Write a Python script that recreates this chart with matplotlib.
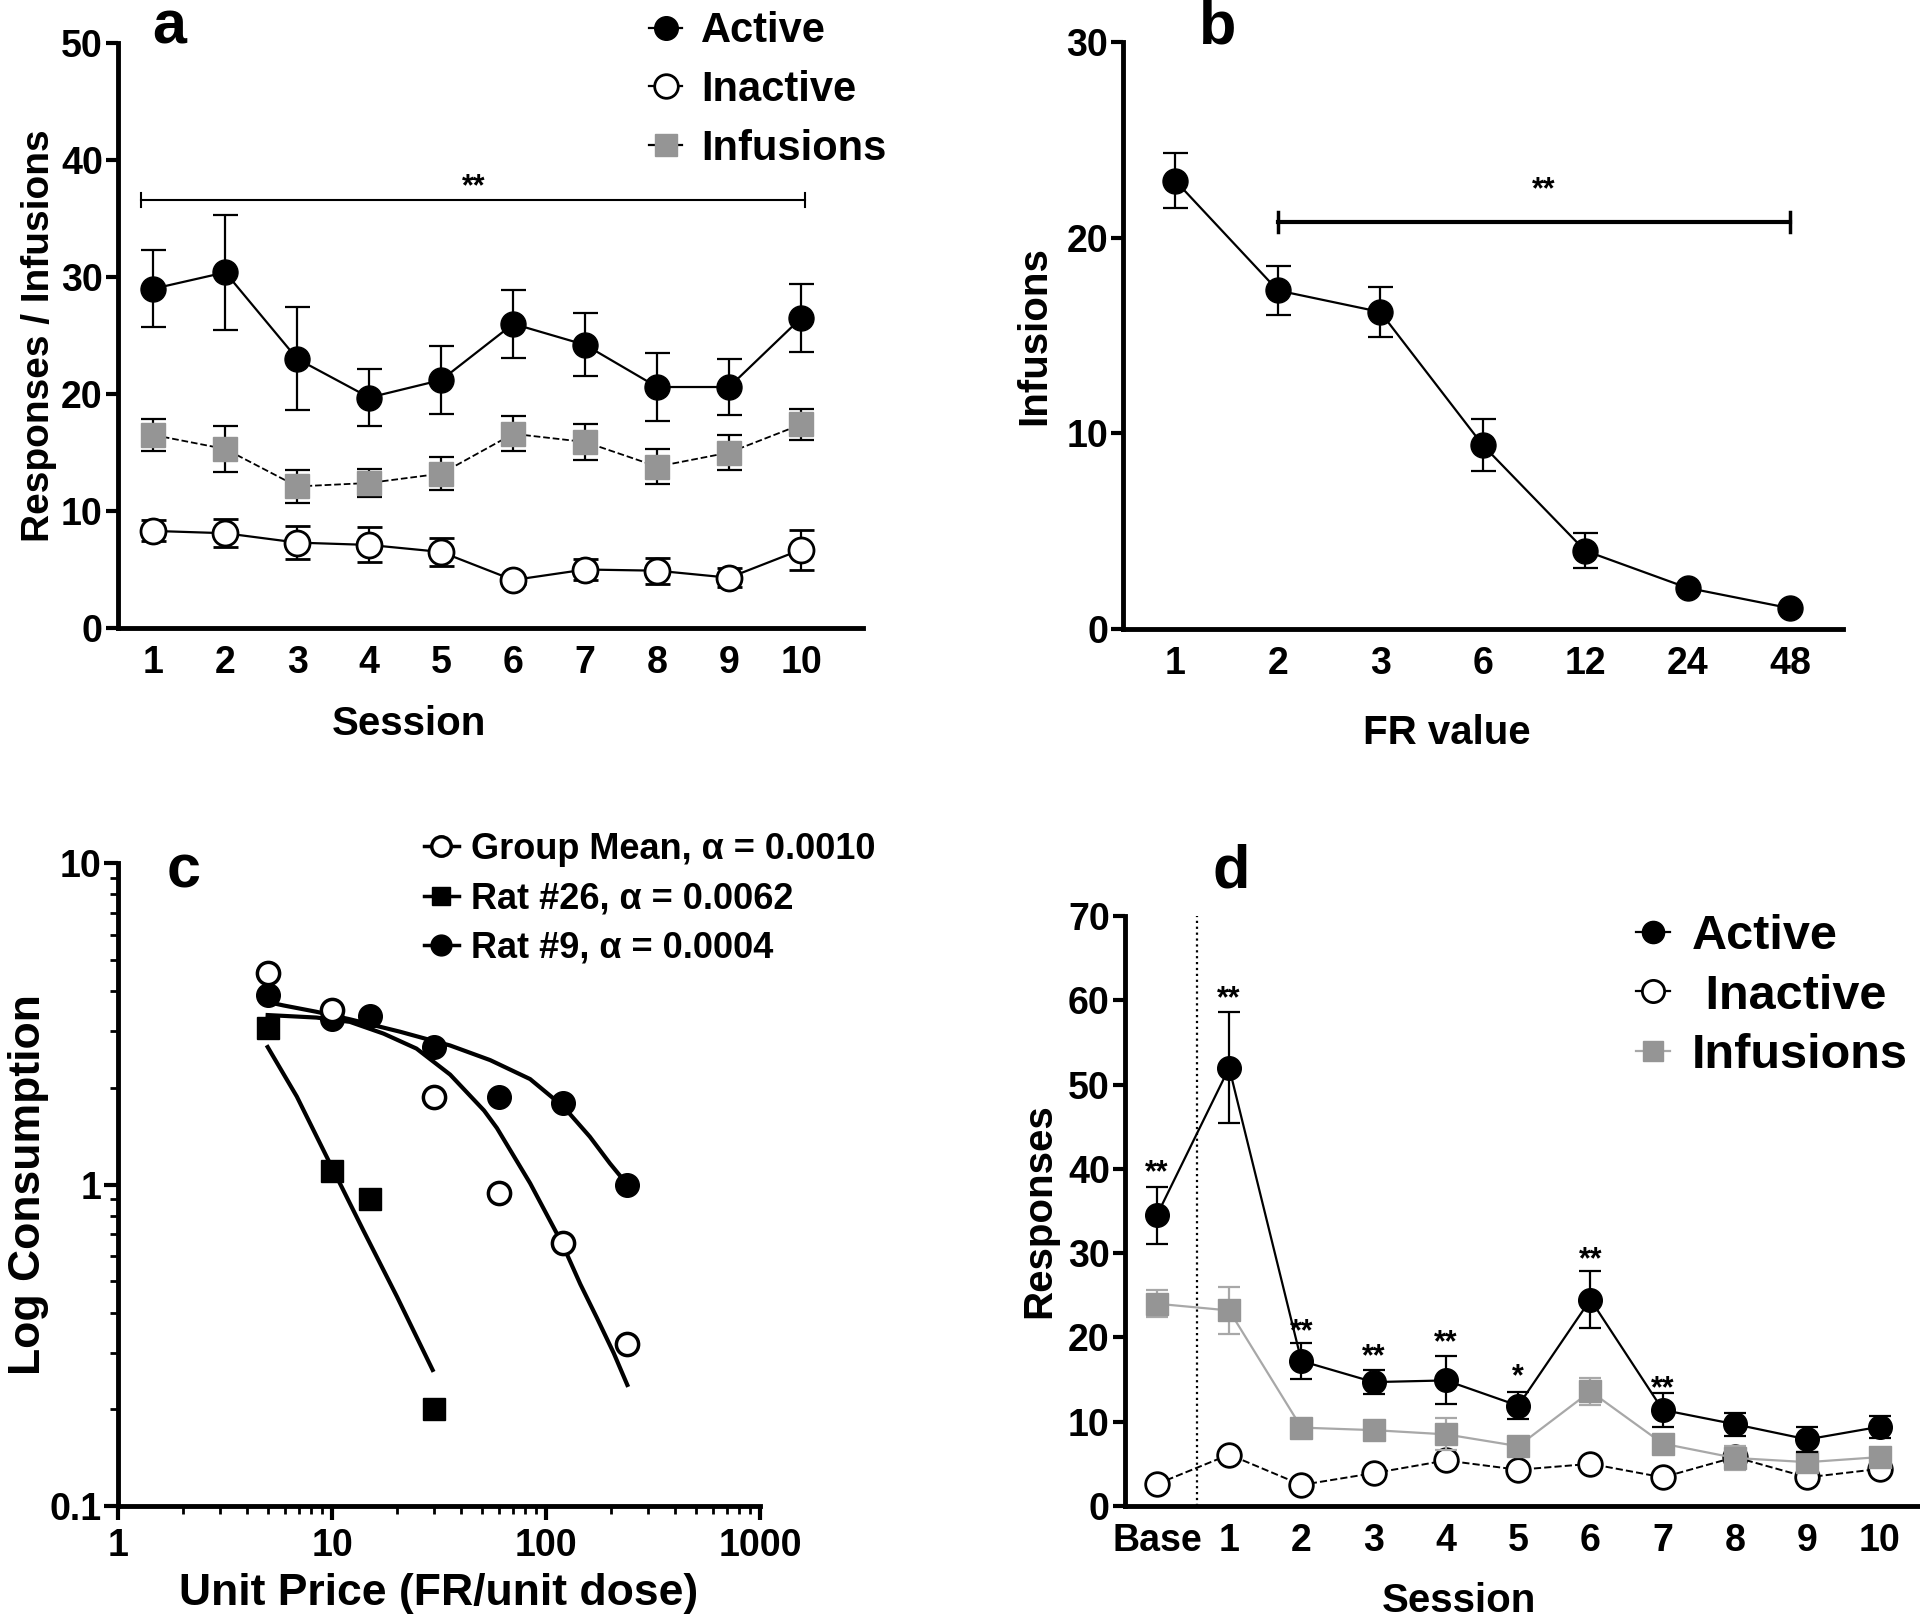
import numpy as np
import matplotlib
matplotlib.use('Agg')
import matplotlib.pyplot as plt
from matplotlib.lines import Line2D
from matplotlib.ticker import FixedLocator, LogLocator, FuncFormatter, NullFormatter

plt.rcParams['font.family'] = ['Liberation Sans', 'DejaVu Sans']
plt.rcParams['font.weight'] = 'bold'

# ---- panel a : acquisition ----
sessions_a = [1, 2, 3, 4, 5, 6, 7, 8, 9, 10]
active_a = [29.0, 30.4, 23.0, 19.7, 21.2, 26.0, 24.2, 20.6, 20.6, 26.5]
active_a_sem = [3.3, 4.9, 4.4, 2.4, 2.9, 2.9, 2.7, 2.9, 2.4, 2.9]
infusions_a = [16.5, 15.3, 12.1, 12.4, 13.2, 16.6, 15.9, 13.8, 15.0, 17.4]
infusions_a_sem = [1.4, 2.0, 1.4, 1.2, 1.4, 1.5, 1.5, 1.5, 1.5, 1.3]
inactive_a = [8.3, 8.1, 7.3, 7.1, 6.5, 4.1, 5.0, 4.9, 4.3, 6.7]
inactive_a_sem = [0.9, 1.2, 1.4, 1.5, 1.2, 0.3, 0.9, 1.1, 0.8, 1.7]

# ---- panel b : FR schedule ----
fr_labels = ['1', '2', '3', '6', '12', '24', '48']
infusions_b = [22.9, 17.3, 16.2, 9.4, 4.0, 2.1, 1.06]
infusions_b_sem = [1.4, 1.25, 1.3, 1.35, 0.9, 0.0, 0.0]

# ---- panel c : demand curves ----
price_group = [5, 10, 30, 60, 120, 240]
cons_group = [4.56, 3.5, 1.87, 0.94, 0.66, 0.32]
price_r26 = [5, 10, 15, 30]
cons_r26 = [3.07, 1.10, 0.90, 0.20]
price_r9 = [5, 10, 15, 30, 60, 120, 240]
cons_r9 = [3.89, 3.28, 3.34, 2.69, 1.88, 1.79, 1.0]
# fitted curves
fit_group_x = [5, 8.45, 12.1, 17.4, 24.8, 35.6, 51.3, 58.9, 84.2, 118.8, 144.5, 172.7, 207, 239.6]
fit_group_y = [3.37, 3.31, 3.21, 2.95, 2.65, 2.2, 1.7, 1.5, 1.01, 0.656, 0.49, 0.385, 0.299, 0.238]
fit_r26_x = [5, 6.84, 9.8, 14.0, 20.1, 29.5]
fit_r26_y = [2.68, 1.88, 1.16, 0.72, 0.448, 0.265]
fit_r9_x = [5, 5.93, 8.45, 12.1, 20.8, 35.6, 54.8, 84.2, 120.7, 160, 198.7, 239.6]
fit_r9_y = [3.7, 3.61, 3.45, 3.27, 2.99, 2.71, 2.44, 2.13, 1.746, 1.41, 1.164, 1.0]

# ---- panel d : sessions after baseline ----
sessions_d = ['Base', '1', '2', '3', '4', '5', '6', '7', '8', '9', '10']
active_d = [34.5, 52.0, 17.2, 14.7, 14.9, 11.9, 24.5, 11.4, 9.7, 7.9, 9.4]
active_d_sem = [3.4, 6.6, 2.1, 1.45, 2.85, 1.6, 3.4, 2.0, 1.35, 1.5, 1.3]
infusions_d = [24.0, 23.2, 9.3, 9.0, 8.5, 7.1, 13.6, 7.4, 5.7, 5.2, 5.8]
infusions_d_sem = [1.6, 2.8, 0.5, 0.5, 1.9, 0.5, 1.6, 0.6, 1.4, 0.8, 0.6]
inactive_d = [2.6, 6.1, 2.5, 3.9, 5.4, 4.3, 5.0, 3.4, 5.8, 3.4, 4.4]
star_text_d = ['**', '**', '**', '**', '**', '*', '**', '**']
star_y_d = [40.2, 60.8, 21.3, 18.4, 20.0, 16.0, 29.8, 14.5]

GRAY = '#959595'
LW = 1.6
MS = 18
CAP = 9
LAB = 29
TICK = 27


def style(ax):
    for s in ['top', 'right']:
        ax.spines[s].set_visible(False)
    for s in ['left', 'bottom']:
        ax.spines[s].set_linewidth(3.5)
    ax.tick_params(axis='y', direction='out', length=9, width=3, labelsize=TICK, pad=2)
    ax.tick_params(axis='x', length=0, labelsize=TICK, pad=12)
    for lab in ax.get_xticklabels() + ax.get_yticklabels():
        lab.set_fontweight('bold')


fig = plt.figure(figsize=(19.2, 16.19), dpi=100)

# ---------------- a ----------------
ax = fig.add_axes([0.0615, 0.6121, 0.388, 0.3613])
ax.errorbar(sessions_a, active_a, yerr=active_a_sem, fmt='-o', color='black', lw=LW,
            ms=MS, capsize=CAP, elinewidth=LW, capthick=LW, zorder=3)
ax.errorbar(sessions_a, infusions_a, yerr=infusions_a_sem, fmt='--s', color='black', lw=1.3,
            ms=MS - 1, mfc=GRAY, mec=GRAY, capsize=CAP, elinewidth=LW, capthick=LW, zorder=3)
ax.errorbar(sessions_a, inactive_a, yerr=inactive_a_sem, fmt='-o', color='black', lw=LW,
            ms=MS, mfc='white', mec='black', mew=2, capsize=CAP, elinewidth=LW, capthick=LW, zorder=3)
ax.plot([0.83, 10.05], [36.6, 36.6], color='black', lw=1.5)
ax.plot([0.83, 0.83], [36.0, 37.2], color='black', lw=1.5)
ax.plot([10.05, 10.05], [36.0, 37.2], color='black', lw=1.5)
ax.text(5.45, 36.4, '**', ha='center', va='bottom', fontsize=22, fontweight='bold')
ax.set_xlim(0.51, 10.86)
ax.set_ylim(0, 50)
ax.set_xticks(sessions_a)
ax.set_yticks([0, 10, 20, 30, 40, 50])
ax.set_xlabel('Session', fontsize=LAB, fontweight='bold')
ax.set_ylabel('Responses / Infusions', fontsize=28, fontweight='bold')
ax.xaxis.set_label_coords(0.39, -0.132)
ax.yaxis.set_label_coords(-0.082, 0.5)
style(ax)
h = [Line2D([], [], color='black', lw=LW, marker='o', ms=17),
     Line2D([], [], color='black', lw=LW, marker='o', ms=17, mfc='white', mew=2),
     Line2D([], [], color='black', lw=LW, marker='s', ms=16, mfc=GRAY, mec=GRAY)]
ax.legend(h, ['Active', 'Inactive', 'Infusions'], loc='upper left',
          bbox_to_anchor=(0.338, 0.993), bbox_transform=fig.transFigure, frameon=False,
          handlelength=0.8, handletextpad=0.45, labelspacing=0.45,
          borderpad=0, borderaxespad=0, prop={'weight': 'bold', 'size': 30})
fig.text(169 / 1920, 1 - 28 / 1619, 'a', fontsize=44, fontweight='bold', ha='center', va='center')

# ---------------- b ----------------
ax = fig.add_axes([0.585, 0.6115, 0.375, 0.3626])
xb = np.arange(len(fr_labels))
ax.errorbar(xb, infusions_b, yerr=infusions_b_sem, fmt='-o', color='black', lw=LW,
            ms=MS, capsize=CAP, elinewidth=LW, capthick=LW, zorder=3)
ax.plot([xb[1], xb[-1]], [20.8, 20.8], color='black', lw=3)
ax.plot([xb[1], xb[1]], [20.3, 21.3], color='black', lw=2.5)
ax.plot([xb[-1], xb[-1]], [20.3, 21.3], color='black', lw=2.5)
ax.text(3.6, 21.65, '**', ha='center', va='bottom', fontsize=22, fontweight='bold')
ax.set_xlim(-0.51, 6.52)
ax.set_ylim(0, 30)
ax.set_xticks(xb)
ax.set_xticklabels(fr_labels)
ax.set_yticks([0, 10, 20, 30])
ax.set_xlabel('FR value', fontsize=LAB, fontweight='bold')
ax.set_ylabel('Infusions', fontsize=LAB, fontweight='bold')
ax.xaxis.set_label_coords(0.45, -0.145)
ax.yaxis.set_label_coords(-0.097, 0.5)
style(ax)
fig.text(1218 / 1920, 1 - 28 / 1619, 'b', fontsize=44, fontweight='bold', ha='center', va='center')

# ---------------- c ----------------
ax = fig.add_axes([0.0615, 0.0698, 0.3344, 0.397])
ax.set_xscale('log')
ax.set_yscale('log')
ax.plot(fit_group_x, fit_group_y, color='black', lw=3, zorder=2)
ax.plot(fit_r26_x, fit_r26_y, color='black', lw=3, zorder=2)
ax.plot(fit_r9_x, fit_r9_y, color='black', lw=3, zorder=2)
ax.plot(price_r26, cons_r26, 's', color='black', ms=16, zorder=3)
ax.plot(price_r9, cons_r9, 'o', color='black', ms=17, zorder=3)
ax.plot(price_group, cons_group, 'o', color='black', mfc='white', mew=2.5, ms=16, zorder=4)
ax.set_xlim(1, 1000)
ax.set_ylim(0.1, 10)
fmt = FuncFormatter(lambda v, p: '%g' % v)
ax.xaxis.set_major_formatter(fmt)
ax.yaxis.set_major_formatter(fmt)
ax.xaxis.set_minor_formatter(NullFormatter())
ax.yaxis.set_minor_formatter(NullFormatter())
ax.xaxis.set_major_locator(FixedLocator([1, 10, 100, 1000]))
ax.yaxis.set_major_locator(FixedLocator([0.1, 1, 10]))
ax.xaxis.set_minor_locator(LogLocator(base=10, subs=np.arange(2, 10), numticks=20))
ax.yaxis.set_minor_locator(LogLocator(base=10, subs=np.arange(2, 10), numticks=20))
for s in ['top', 'right']:
    ax.spines[s].set_visible(False)
for s in ['left', 'bottom']:
    ax.spines[s].set_linewidth(3.5)
ax.tick_params(which='major', direction='out', length=10, width=3, labelsize=TICK)
ax.tick_params(which='minor', direction='out', length=6, width=2)
ax.tick_params(axis='x', which='major', pad=6)
ax.tick_params(axis='y', which='major', pad=2)
for lab in ax.get_xticklabels() + ax.get_yticklabels():
    lab.set_fontweight('bold')
ax.set_xlabel('Unit Price (FR/unit dose)', fontsize=32, fontweight='bold')
ax.set_ylabel('Log Consumption', fontsize=32, fontweight='bold')
ax.xaxis.set_label_coords(0.5, -0.104)
ax.yaxis.set_label_coords(-0.107, 0.5)
h = [Line2D([], [], color='black', lw=2.5, marker='o', ms=14, mfc='white', mew=2.5),
     Line2D([], [], color='black', lw=2.5, marker='s', ms=13),
     Line2D([], [], color='black', lw=2.5, marker='o', ms=15)]
ax.legend(h, ['Group Mean, \u03b1 = 0.0010', 'Rat #26, \u03b1 = 0.0062', 'Rat #9, \u03b1 = 0.0004'],
          loc='upper left', bbox_to_anchor=(0.221, 0.4862), bbox_transform=fig.transFigure,
          frameon=False, handlelength=0.95, handletextpad=0.35, labelspacing=0.4,
          borderpad=0, borderaxespad=0, prop={'weight': 'bold', 'size': 26})
fig.text(184 / 1920, 1 - 872 / 1619, 'c', fontsize=44, fontweight='bold', ha='center', va='center')

# ---------------- d ----------------
ax = fig.add_axes([0.586, 0.0698, 0.414, 0.3644])
xd = np.arange(len(sessions_d))
ax.axvline(0.55, color='black', lw=1.6, ls=':', ymax=1.0)
ax.errorbar(xd, inactive_d, fmt='--o', color='black', lw=1.4, ms=17, mfc='white',
            mec='black', mew=2, zorder=3)
ax.errorbar(xd, infusions_d, yerr=infusions_d_sem, fmt='-s', color='#a8a8a8', lw=LW,
            ms=16, mfc=GRAY, mec=GRAY, capsize=8, elinewidth=LW, capthick=LW, zorder=4)
ax.errorbar(xd, active_d, yerr=active_d_sem, fmt='-o', color='black', lw=LW,
            ms=17, capsize=8, elinewidth=LW, capthick=LW, zorder=5)
for x, t, y in zip(xd, star_text_d, star_y_d):
    ax.text(x, y - 0.7, t, ha='center', va='center', fontsize=22, fontweight='bold', zorder=6)
ax.set_xlim(-0.44, 10.56)
ax.set_ylim(0, 70)
ax.set_xticks(xd)
ax.set_xticklabels(sessions_d)
ax.set_yticks([0, 10, 20, 30, 40, 50, 60, 70])
ax.set_xlabel('Session', fontsize=LAB, fontweight='bold')
ax.set_ylabel('Responses', fontsize=LAB, fontweight='bold')
ax.xaxis.set_label_coords(0.42, -0.129)
ax.yaxis.set_label_coords(-0.084, 0.5)
style(ax)
h = [Line2D([], [], color='black', lw=LW, marker='o', ms=16),
     Line2D([], [], color='black', lw=LW, marker='o', ms=16, mfc='white', mew=2),
     Line2D([], [], color='#a8a8a8', lw=LW, marker='s', ms=15, mfc=GRAY, mec=GRAY)]
ax.legend(h, ['Active', ' Inactive', 'Infusions'], loc='upper left',
          bbox_to_anchor=(0.852, 0.4355), bbox_transform=fig.transFigure, frameon=False,
          handlelength=0.7, handletextpad=0.45, labelspacing=0.3,
          borderpad=0, borderaxespad=0, prop={'weight': 'bold', 'size': 35})
fig.text(1231 / 1920, 1 - 872 / 1619, 'd', fontsize=44, fontweight='bold', ha='center', va='center')

fig.savefig('out.png', dpi=100)
